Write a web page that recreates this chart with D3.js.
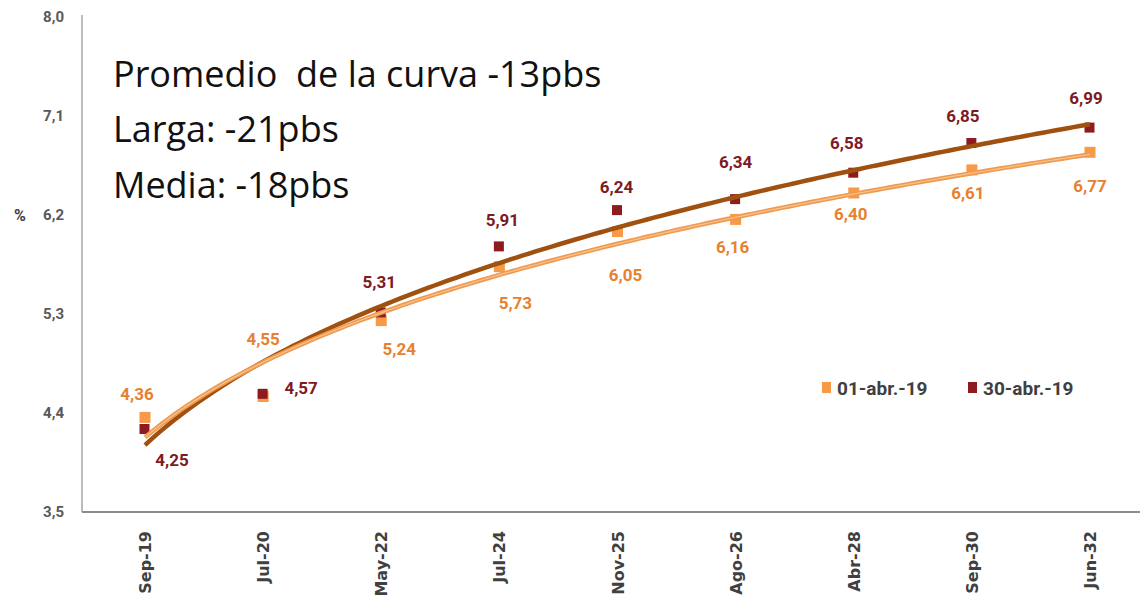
<html>
<head>
<meta charset="utf-8">
<script src="https://cdn.jsdelivr.net/npm/d3@7"></script>
<style>
  body { margin: 0; background: #fff; }
  svg { display: block; }
</style>
</head>
<body>
<svg id="chart"></svg>
<script>
// data
const categories = ["Sep-19", "Jul-20", "May-22", "Jul-24", "Nov-25", "Ago-26", "Abr-28", "Sep-30", "Jun-32"]
const seriesNames = ["01-abr.-19", "30-abr.-19"]
const valuesAbr01 = [4.36, 4.55, 5.24, 5.73, 6.05, 6.16, 6.40, 6.61, 6.77]
const valuesAbr30 = [4.25, 4.57, 5.31, 5.91, 6.24, 6.34, 6.58, 6.85, 6.99]
const yTicks = [3.5, 4.4, 5.3, 6.2, 7.1, 8.0]
const notes = ["Promedio  de la curva -13pbs", "Larga: -21pbs", "Media: -18pbs"]

const WIDTH = 1140
const HEIGHT = 609
const ORANGE = "#F79A48"
const DARKRED = "#8E1B1F"
const LABEL_FONT = "'Roboto', 'Liberation Sans', sans-serif"

// label offsets from each marker (pixels)
const offAbr01 = [[-8, -23], [0, -57], [18, 28], [16, 36], [8, 44], [-3, 28], [-3, 21], [-4, 23], [0, 34]]
const offAbr30 = [[27, 31], [38, -6], [-2, -31], [3, -27], [-1, -24], [0, -38], [-7, -30], [-9, -27], [-4, -30]]

const svg = d3.select("#chart").attr("width", WIDTH).attr("height", HEIGHT)

const x = d3.scalePoint().domain(categories).range([145, 1090])
const y = d3.scaleLinear().domain([3.5, 8.0]).range([512, 17])
// category index (1..n) to pixel, used by the trend lines
const xIdx = d3.scaleLinear().domain([1, categories.length]).range([x(categories[0]), x(categories[categories.length - 1])])

// power trend line (y = a * t^b), fitted on ln-ln like the spreadsheet does
function powerFit(vals) {
    const lx = vals.map((d, i) => Math.log(i + 1))
    const ly = vals.map(d => Math.log(d))
    const mx = d3.mean(lx), my = d3.mean(ly)
    const b = d3.sum(lx, (v, i) => (v - mx) * (ly[i] - my)) / d3.sum(lx, v => (v - mx) * (v - mx))
    const a = Math.exp(my - b * mx)
    return d3.range(1, categories.length + 0.001, 0.05).map(t => [t, a * Math.pow(t, b)])
}

// axes
svg.append("line")
    .attr("x1", 82).attr("x2", 82).attr("y1", 15).attr("y2", 512)
    .attr("stroke", "#A6A6A6").attr("stroke-width", 1.5)
svg.append("line")
    .attr("x1", 82).attr("x2", WIDTH).attr("y1", 512).attr("y2", 512)
    .attr("stroke", "#8C8C8C").attr("stroke-width", 2)

const yAxis = d3.axisLeft(y)
    .tickValues(yTicks)
    .tickSize(0)
    .tickPadding(18)
    .tickFormat(d => d3.format(".1f")(d).replace(".", ","))
svg.append("g")
    .attr("transform", "translate(82,0)")
    .call(yAxis)
    .call(g => g.select(".domain").remove())
    .selectAll("text")
        .attr("font-family", LABEL_FONT)
        .attr("font-weight", "bold")
        .attr("font-size", 15)
        .attr("fill", "#595959")

svg.append("text")
    .attr("x", 20).attr("y", y(6.2))
    .attr("dy", "0.35em")
    .attr("text-anchor", "middle")
    .attr("font-family", LABEL_FONT)
    .attr("font-weight", "bold")
    .attr("font-size", 16)
    .attr("fill", "#404040")
    .text("%")

const xAxis = d3.axisBottom(x).tickSize(0).tickPadding(0)
svg.append("g")
    .attr("transform", "translate(0,512)")
    .call(xAxis)
    .call(g => g.select(".domain").remove())
    .selectAll("text")
        .attr("transform", "rotate(-90)")
        .attr("x", -19)
        .attr("y", 0)
        .attr("dy", "0.35em")
        .attr("text-anchor", "end")
        .attr("font-family", "'DejaVu Sans', sans-serif")
        .attr("font-weight", "bold")
        .attr("font-size", 16)
        .attr("fill", "#404040")

// markers (dark series on top of the orange one)
const MS = 11
svg.append("g").selectAll("rect")
    .data(valuesAbr01)
    .join("rect")
        .attr("x", (d, i) => x(categories[i]) - MS / 2)
        .attr("y", d => y(d) - MS / 2)
        .attr("width", MS).attr("height", MS)
        .attr("fill", ORANGE)
svg.append("g").selectAll("rect")
    .data(valuesAbr30)
    .join("rect")
        .attr("x", (d, i) => x(categories[i]) - MS / 2)
        .attr("y", d => y(d) - MS / 2)
        .attr("width", MS - 1).attr("height", MS - 1)
        .attr("fill", DARKRED)

// trend lines on top of markers
const line = d3.line()
    .x(d => xIdx(d[0]))
    .y(d => y(d[1]))

const trend30 = powerFit(valuesAbr30)
const trend01 = powerFit(valuesAbr01)
svg.append("path").datum(trend30)
    .attr("d", line).attr("fill", "none")
    .attr("stroke", "#A0500F").attr("stroke-width", 4.5)
svg.append("path").datum(trend01)
    .attr("d", line).attr("fill", "none")
    .attr("stroke", "#F09A50").attr("stroke-width", 4.5)
svg.append("path").datum(trend01)
    .attr("d", line).attr("fill", "none")
    .attr("stroke", "#F8C290").attr("stroke-width", 1.2)

// data labels
function addLabels(vals, offs, color) {
    svg.append("g").selectAll("text")
        .data(vals)
        .join("text")
            .attr("x", (d, i) => x(categories[i]) + offs[i][0])
            .attr("y", (d, i) => y(d) + offs[i][1])
            .attr("dy", "0.35em")
            .attr("text-anchor", "middle")
            .attr("font-family", LABEL_FONT)
            .attr("font-weight", "bold")
            .attr("font-size", 17)
            .attr("fill", color)
            .text(d => d3.format(".2f")(d).replace(".", ","))
}
addLabels(valuesAbr01, offAbr01, "#E8812F")
addLabels(valuesAbr30, offAbr30, "#7E1A22")

// legend
const legend = svg.append("g")
const legendX = [822, 968]
const legendColors = [ORANGE, DARKRED]
seriesNames.forEach((name, i) => {
    legend.append("rect")
        .attr("x", legendX[i]).attr("y", 382)
        .attr("width", 9).attr("height", 11)
        .attr("fill", legendColors[i])
    legend.append("text")
        .attr("x", legendX[i] + 15).attr("y", 388)
        .attr("dy", "0.35em")
        .attr("font-family", LABEL_FONT)
        .attr("font-weight", "bold")
        .attr("font-size", 19)
        .attr("fill", "#404040")
        .text(name)
})

// annotation text
const noteY = [87, 142, 198]
notes.forEach((t, i) => {
    svg.append("text")
        .attr("x", 113).attr("y", noteY[i])
        .attr("font-family", "'Open Sans', sans-serif")
        .attr("font-size", 36)
        .attr("fill", "#111")
        .style("white-space", "pre")
        .text(t)
})
</script>
</body>
</html>
